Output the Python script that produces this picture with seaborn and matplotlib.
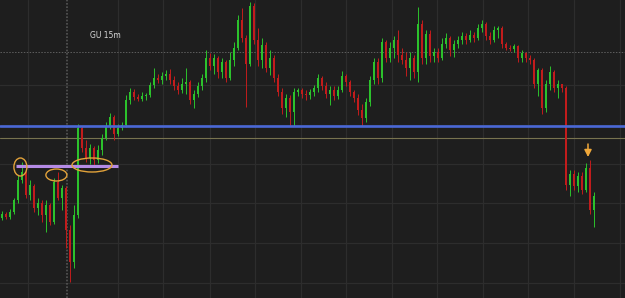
import numpy as np
import pandas as pd
import matplotlib
matplotlib.use("Agg")
import matplotlib.pyplot as plt
from matplotlib.patches import Ellipse
import seaborn as sns

# ---- data (price in chart points) ----
opens = [80, 84, 81, 86, 98, 118, 126, 103, 112, 90, 95, 83, 93, 76, 116, 100, 110, 68, 36, 83,
         170, 150, 140, 150, 138, 148, 160, 172, 181, 164, 170, 173, 198, 206, 201, 199, 202, 203, 213, 220,
         218, 222, 224, 218, 212, 208, 214, 216, 198, 204, 212, 220, 240, 232, 240, 226, 236, 220, 238, 250,
         278, 260, 234, 292, 258, 238, 253, 230, 240, 220, 206, 190, 200, 186, 206, 208, 204, 203, 206, 210,
         220, 212, 204, 208, 202, 208, 222, 216, 206, 200, 188, 180, 196, 218, 236, 220, 256, 240, 250, 258,
         243, 238, 230, 240, 226, 274, 240, 264, 242, 246, 240, 254, 260, 248, 254, 258, 262, 258, 263, 260,
         270, 274, 262, 258, 268, 270, 254, 250, 249, 252, 240, 245, 240, 238, 214, 228, 190, 214, 226, 210,
         214, 210, 113, 124, 112, 122, 108, 130, 88]
highs = [87, 86, 89, 100, 123, 136, 128, 118, 114, 100, 98, 98, 95, 120, 126, 113, 112, 73, 93, 174,
         172, 158, 154, 152, 153, 164, 176, 185, 183, 174, 176, 203, 210, 209, 204, 206, 205, 216, 230, 224,
         226, 228, 229, 222, 216, 220, 230, 218, 208, 216, 224, 248, 245, 244, 242, 240, 238, 246, 256, 283,
         290, 263, 296, 295, 270, 260, 256, 248, 243, 224, 210, 204, 203, 210, 210, 210, 208, 209, 213, 224,
         222, 216, 212, 212, 212, 227, 224, 218, 208, 204, 194, 200, 222, 240, 240, 260, 258, 256, 262, 268,
         250, 246, 246, 243, 291, 278, 268, 268, 250, 250, 260, 265, 262, 258, 262, 266, 265, 268, 266, 274,
         278, 276, 266, 272, 272, 272, 256, 253, 254, 253, 248, 246, 243, 240, 230, 230, 218, 232, 228, 218,
         214, 212, 128, 128, 126, 126, 135, 138, 106]
lows = [78, 79, 79, 84, 95, 115, 100, 98, 86, 83, 76, 66, 73, 74, 98, 88, 50, 16, 30, 80,
        146, 136, 134, 133, 135, 143, 158, 169, 158, 162, 168, 171, 194, 198, 197, 197, 198, 201, 210, 215,
        214, 218, 214, 208, 204, 205, 204, 194, 190, 201, 208, 216, 228, 224, 220, 220, 216, 218, 232, 248,
        256, 191, 232, 254, 232, 230, 226, 223, 216, 202, 184, 181, 172, 172, 202, 200, 198, 199, 202, 206,
        208, 200, 193, 198, 199, 206, 212, 202, 196, 183, 172, 176, 192, 214, 214, 216, 236, 236, 240, 236,
        234, 222, 218, 220, 216, 234, 234, 236, 236, 236, 238, 250, 242, 241, 250, 254, 254, 256, 256, 258,
        266, 258, 254, 256, 260, 250, 248, 247, 246, 236, 236, 236, 234, 210, 202, 184, 186, 208, 206, 200,
        206, 108, 102, 108, 106, 104, 106, 84, 71]
closes = [84, 81, 86, 98, 118, 126, 103, 113, 90, 95, 83, 93, 76, 116, 100, 110, 68, 36, 83, 170,
          150, 140, 150, 138, 148, 160, 172, 181, 164, 170, 173, 198, 206, 201, 199, 202, 203, 213, 220, 218,
          222, 224, 218, 212, 208, 214, 216, 198, 204, 212, 220, 240, 232, 240, 226, 236, 220, 238, 250, 278,
          260, 234, 292, 258, 238, 253, 230, 240, 220, 206, 190, 200, 186, 206, 208, 204, 203, 206, 210, 220,
          212, 204, 208, 202, 208, 222, 216, 206, 200, 188, 180, 196, 218, 236, 220, 256, 240, 250, 258, 243,
          238, 230, 240, 226, 274, 240, 264, 242, 246, 240, 254, 260, 248, 254, 258, 262, 258, 263, 260, 270,
          274, 262, 258, 268, 270, 254, 250, 249, 252, 240, 245, 240, 238, 214, 228, 190, 214, 226, 210, 214,
          210, 113, 124, 112, 122, 108, 130, 88, 102]

resistance_level = 172      # blue line
minor_level = 160           # tan line
dotted_level = 246          # grey dotted line
purple_level = 132          # purple support line
session_break = 16.25       # dotted vertical separator (bar index)
title_text = "GU 15m"

df = pd.DataFrame({"o": opens, "h": highs, "l": lows, "c": closes})
df["idx"] = np.arange(len(df))
df["up"] = df["c"] >= df["o"]

BG = "#1e1e1e"
sns.set_theme(style="darkgrid", rc={
    "axes.facecolor": BG, "figure.facecolor": BG,
    "grid.color": "#2d2d2d", "grid.linewidth": 0.9,
    "axes.edgecolor": BG,
})

fig = plt.figure(figsize=(6.25, 2.98), dpi=100)
ax = fig.add_axes([0, 0, 1, 1])

GREEN = "#2cc22c"
RED = "#c21c1c"
colors = np.where(df["up"], GREEN, RED)

ax.vlines(df["idx"], df["l"], df["h"], colors=colors, linewidth=0.7, zorder=3)
body_bottom = np.minimum(df["o"], df["c"])
body_h = np.maximum(np.abs(df["c"] - df["o"]), 1.0)
ax.bar(df["idx"], body_h, bottom=body_bottom, width=0.62, color=colors, linewidth=0, zorder=4)

# levels
ax.axhline(resistance_level, color="#4a68d6", linewidth=1.9, zorder=5)
ax.axhline(minor_level, color="#78734f", linewidth=0.8, zorder=2)
ax.axhline(dotted_level, color="#5e5e5e", linewidth=0.7, linestyle=(0, (1.5, 1.5)), zorder=2)
ax.axvline(session_break, color="#555555", linewidth=1.2, linestyle=(0, (1, 1)), zorder=2)
ax.plot([3.5, 29.0], [purple_level, purple_level], color="#b58be6", linewidth=2.2, zorder=6,
        solid_capstyle="butt")

# highlight ellipses
for (cx, cy, w, h) in [(4.6, 131, 3.25, 18), (13.6, 123, 5.25, 12), (22.5, 133, 10.0, 14)]:
    ax.add_patch(Ellipse((cx, cy), w, h, fill=False, edgecolor="#e2a23a", linewidth=1.0, zorder=7))

# arrow
ax.annotate("", xy=(146.5, 141), xytext=(146.5, 154),
            arrowprops=dict(arrowstyle="-|>,head_width=0.18,head_length=0.35", color="#f0a83a",
                            linewidth=1.1, shrinkA=0, shrinkB=0), zorder=8)

ax.text(25.75, 262, title_text, color="#d8d8d8", fontsize=5.5, ha="center", va="center")

ax.set_xlim(-0.5, 155.75)
ax.set_ylim(0, 298)
ax.set_xticks([6.5, 29, 40.25, 52, 63.25, 74.75, 86, 97.5, 108.75, 120.25, 131.5, 143, 154.5])
ax.set_yticks([15, 55, 95, 134, 173, 213])
ax.tick_params(length=0, labelbottom=False, labelleft=False)
for s in ax.spines.values():
    s.set_visible(False)

fig.savefig("out.png", dpi=100, facecolor=BG)
